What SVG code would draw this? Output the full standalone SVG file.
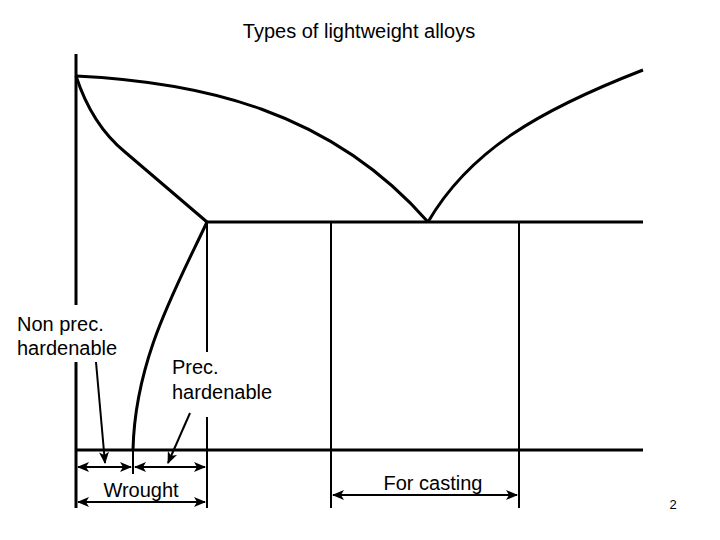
<svg xmlns="http://www.w3.org/2000/svg" width="720" height="540" viewBox="0 0 720 540">
<defs>
<marker id="ah" viewBox="0 0 12 10" refX="11" refY="5" markerWidth="12" markerHeight="10" markerUnits="userSpaceOnUse" orient="auto-start-reverse">
<path d="M0,0 L12,5 L0,10 L3,5 Z" fill="#000"/>
</marker>
<style>
.thick{stroke:#000;stroke-width:3;fill:none}
.thin{stroke:#000;stroke-width:2;fill:none}
.dim{stroke:#000;stroke-width:2;fill:none;marker-start:url(#ah);marker-end:url(#ah)}
.ptr{stroke:#000;stroke-width:2;fill:none;marker-end:url(#ah)}
text{font-family:"Liberation Sans",Arial,sans-serif;font-size:20px;fill:#000}
</style>
</defs>
<rect width="720" height="540" fill="#fff"/>
<g id="connectors">
<line class="thick" x1="76" y1="54" x2="76" y2="508"/>
<line class="thick" x1="76" y1="450" x2="643" y2="450"/>
<path class="thick" d="M76,76 C200,82 330,110 428,222"/>
<path class="thick" d="M428,222 C470,150 540,110 643,70"/>
<path class="thick" d="M76,76 Q92,125 125,152 L207,222"/>
<line class="thick" x1="207" y1="222" x2="643" y2="222"/>
<path class="thick" d="M207,222 C175,290 135,360 133,450"/>
<line class="thin" x1="133" y1="450" x2="133" y2="474"/>
<line class="thin" x1="207" y1="222" x2="207" y2="508"/>
<line class="thin" x1="331" y1="222" x2="331" y2="508"/>
<line class="thin" x1="519" y1="222" x2="519" y2="508"/>
<line class="dim" x1="78" y1="467" x2="131" y2="467"/>
<line class="dim" x1="135" y1="467" x2="205" y2="467"/>
<line class="dim" x1="78" y1="502" x2="205" y2="502"/>
<line class="dim" x1="333" y1="495" x2="517" y2="495"/>
</g>
<g id="title"><text x="359" y="38" text-anchor="middle">Types of lightweight alloys</text></g>
<g id="nonprec">
<rect x="14" y="305" width="106" height="57" fill="#fff"/>
<text x="17" y="331">Non prec.</text>
<text x="17" y="355">hardenable</text>
<line class="ptr" x1="96" y1="362" x2="105" y2="463"/>
</g>
<g id="prec">
<rect x="170" y="352" width="104" height="65" fill="#fff"/>
<text x="172" y="374">Prec.</text>
<text x="172" y="399">hardenable</text>
<line class="ptr" x1="190" y1="413" x2="168" y2="463"/>
</g>
<g id="wrought"><text x="141" y="497" text-anchor="middle">Wrought</text></g>
<g id="casting"><text x="433" y="490" text-anchor="middle">For casting</text></g>
<g id="page"><text x="673" y="509" text-anchor="middle" style="font-size:13px">2</text></g>
</svg>
